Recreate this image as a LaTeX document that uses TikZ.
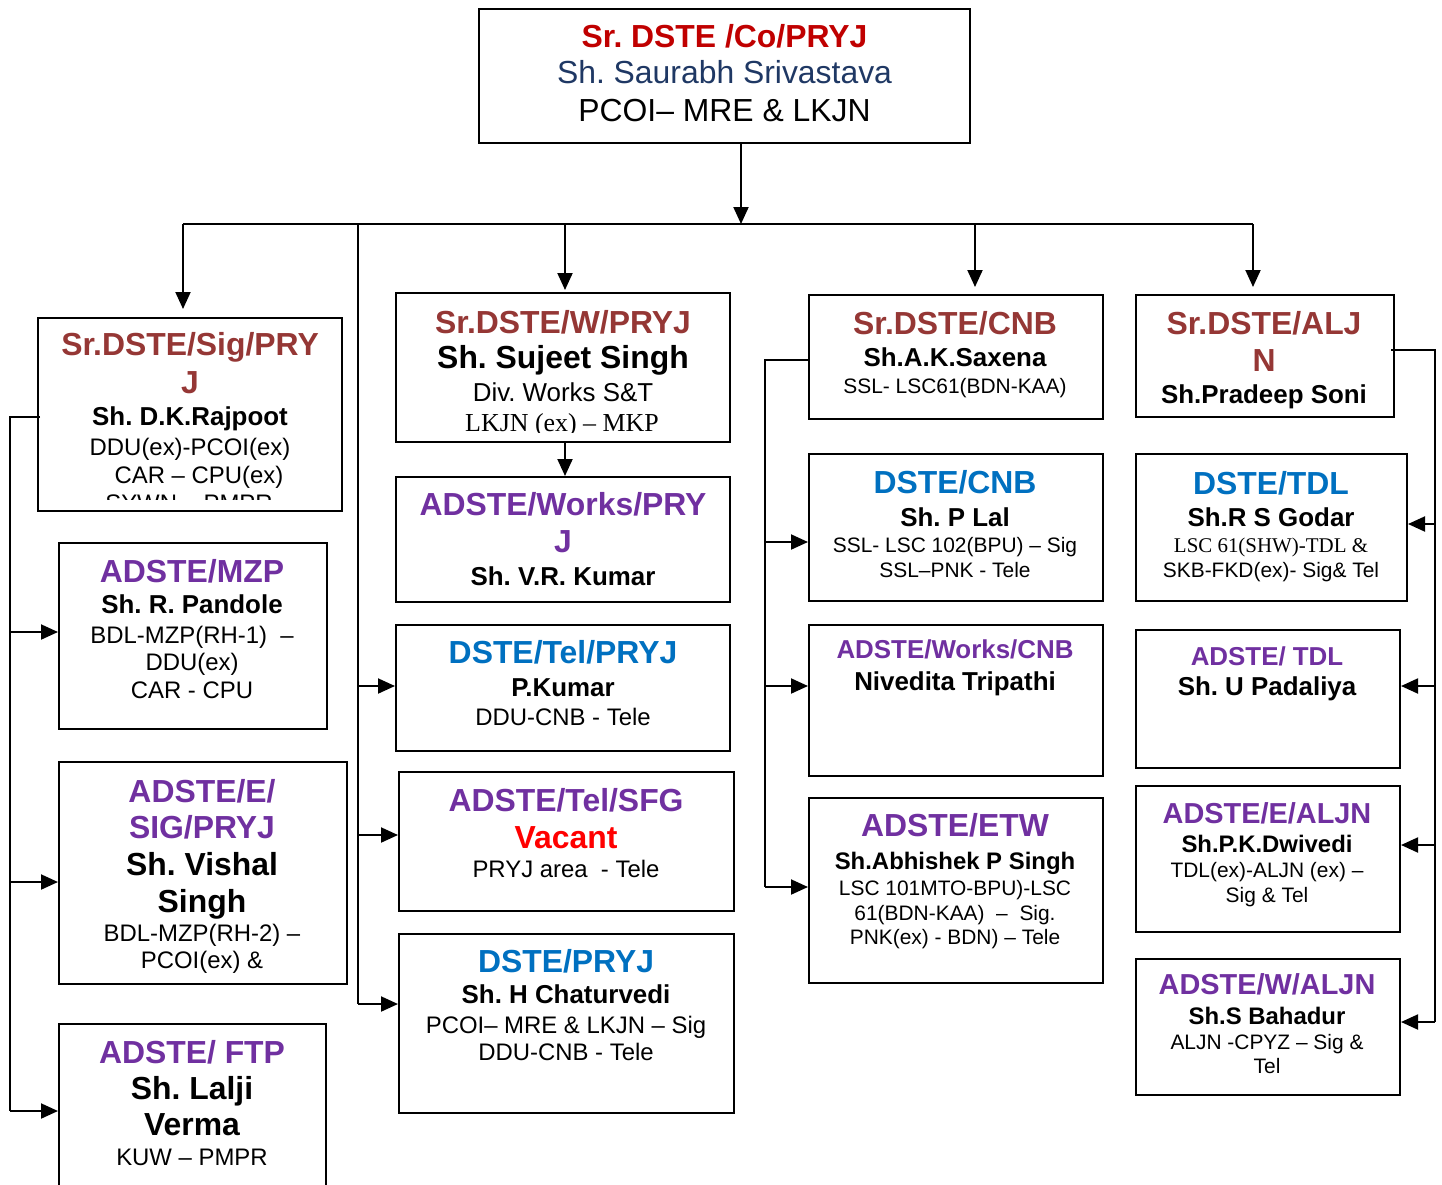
\documentclass[tikz,border=0pt]{standalone}
\usepackage{fontspec}
\setmainfont{Liberation Sans}
\newfontfamily\tmsfont{Liberation Serif}
\usetikzlibrary{arrows.meta}
\definecolor{cbrown}{HTML}{953735}
\definecolor{ctopred}{HTML}{C00000}
\definecolor{cnavy}{HTML}{1F3864}
\definecolor{cblue}{HTML}{0070C0}
\definecolor{cpurple}{HTML}{7030A0}
\definecolor{cvac}{HTML}{FF0000}
\begin{document}
\frenchspacing
\begin{tikzpicture}[x=1bp,y=-1bp,
  box/.style={draw, line width=2bp, inner sep=0pt, anchor=north west},
  ttl/.style={anchor=base, font=\fontsize{32}{36}\selectfont\bfseries},
  ttlm/.style={anchor=base, font=\fontsize{29}{33}\selectfont\bfseries},
  ttls/.style={anchor=base, font=\fontsize{26}{30}\selectfont\bfseries},
  big/.style={anchor=base, font=\fontsize{32}{36}\selectfont\bfseries},
  nm/.style={anchor=base, font=\fontsize{26}{30}\selectfont\bfseries},
  nms/.style={anchor=base, font=\fontsize{24}{28}\selectfont\bfseries},
  reg/.style={anchor=base, font=\fontsize{32}{36}\selectfont},
  dt/.style={anchor=base, font=\fontsize{24}{28}\selectfont},
  dtl/.style={anchor=base, font=\fontsize{26}{30}\selectfont},
  sm/.style={anchor=base, font=\fontsize{21}{25}\selectfont},
  arr/.style={-{Triangle[length=17bp,width=15bp]}, line width=2bp},
  ln/.style={line width=2bp}]
\useasboundingbox (0,0) rectangle (1442,1184);

% ---------- top box
\node[box, minimum width=493, minimum height=134] (tb) at (478,8) {};
\node[ttl, text=ctopred] (tb1) at (724.5,47) {Sr. DSTE /Co/PRYJ};
\node[reg, text=cnavy] (tb2) at (724.5,83) {Sh. Saurabh Srivastava};
\node[reg] (tb3) at (724.5,121) {PCOI– MRE \& LKJN};

% ---------- column 1
\node[box, minimum width=305, minimum height=194] (b1) at (37,317) {};
\node[ttl, text=cbrown] (b1a) at (190,355) {Sr.DSTE/Sig/PRY};
\node[ttl, text=cbrown] (b1b) at (190,393) {J};
\node[nm] (b1c) at (190,425) {Sh. D.K.Rajpoot};
\node[dt] (b1d) at (190,455) {DDU(ex)-PCOI(ex)};
\node[dt] (b1e) at (199,483) {CAR – CPU(ex)};
\begin{scope}
\clip (37,317) rectangle (342,499);
\node[dt] (b1f) at (189,511) {SYWN – PMPR};
\end{scope}

\node[box, minimum width=269, minimum height=187] (b2) at (58,542) {};
\node[ttl, text=cpurple] (b2a) at (192,582) {ADSTE/MZP};
\node[nm] (b2b) at (192,613) {Sh. R. Pandole};
\node[dt] (b2c) at (192,643) {BDL-MZP(RH-1)\ \ –};
\node[dt] (b2d) at (192,670) {DDU(ex)};
\node[dt] (b2e) at (192,698) {CAR - CPU};

\node[box, minimum width=289, minimum height=223] (b3) at (58,761) {};
\node[ttl, text=cpurple] (b3a) at (202,802) {ADSTE/E/};
\node[ttl, text=cpurple] (b3b) at (202,838) {SIG/PRYJ};
\node[big] (b3c) at (202,875) {Sh. Vishal};
\node[big] (b3d) at (202,912) {Singh};
\node[dt] (b3e) at (202,941) {BDL-MZP(RH-2) –};
\node[dt] (b3f) at (202,968) {PCOI(ex) \&};

\node[box, minimum width=268, minimum height=200] (b4) at (58,1023) {};
\node[ttl, text=cpurple] (b4a) at (192,1063) {ADSTE/ FTP};
\node[big] (b4b) at (192,1099) {Sh. Lalji};
\node[big] (b4c) at (192,1135) {Verma};
\node[dt] (b4d) at (192,1165) {KUW – PMPR};

% ---------- column 2
\node[box, minimum width=335, minimum height=150] (c1) at (395,292) {};
\node[ttl, text=cbrown] (c1a) at (563,333) {Sr.DSTE/W/PRYJ};
\node[big] (c1b) at (563,368) {Sh. Sujeet Singh};
\node[dtl] (c1c) at (563,401) {Div. Works S\&T};
\begin{scope}
\clip (395,292) rectangle (730,432);
\node[anchor=base, font=\fontsize{26}{30}\selectfont\tmsfont] (c1d) at (562,431) {LKJN (ex) – MKP};
\end{scope}

\node[box, minimum width=335, minimum height=125] (c2) at (395,476) {};
\node[ttl, text=cpurple] (c2a) at (563,515) {ADSTE/Works/PRY};
\node[ttl, text=cpurple] (c2b) at (563,552) {J};
\node[nm] (c2c) at (563,585) {Sh. V.R. Kumar};

\node[box, minimum width=335, minimum height=126] (c3) at (395,624) {};
\node[ttl, text=cblue] (c3a) at (563,663) {DSTE/Tel/PRYJ};
\node[nm] (c3b) at (563,696) {P.Kumar};
\node[dt] (c3c) at (563,725) {DDU-CNB - Tele};

\node[box, minimum width=336, minimum height=139] (c4) at (398,771) {};
\node[ttl, text=cpurple] (c4a) at (566,811) {ADSTE/Tel/SFG};
\node[ttl, text=cvac] (c4b) at (566,848) {Vacant};
\node[dt] (c4c) at (566,877) {PRYJ area\ \ - Tele};

\node[box, minimum width=336, minimum height=180] (c5) at (398,933) {};
\node[ttl, text=cblue] (c5a) at (566,972) {DSTE/PRYJ};
\node[nm] (c5b) at (566,1003) {Sh. H Chaturvedi};
\node[dt] (c5c) at (566,1033) {PCOI– MRE \& LKJN – Sig};
\node[dt] (c5d) at (566,1060) {DDU-CNB - Tele};

% ---------- column 3
\node[box, minimum width=295, minimum height=124] (d1) at (808,294) {};
\node[ttl, text=cbrown] (d1a) at (955,334) {Sr.DSTE/CNB};
\node[nm] (d1b) at (955,366) {Sh.A.K.Saxena};
\node[sm] (d1c) at (955,393) {SSL- LSC61(BDN-KAA)};

\node[box, minimum width=295, minimum height=148] (d2) at (808,453) {};
\node[ttl, text=cblue] (d2a) at (955,493) {DSTE/CNB};
\node[nm] (d2b) at (955,526) {Sh. P Lal};
\node[sm] (d2c) at (955,552) {SSL- LSC 102(BPU) – Sig};
\node[sm] (d2d) at (955,577) {SSL–PNK - Tele};

\node[box, minimum width=295, minimum height=152] (d3) at (808,624) {};
\node[ttls, text=cpurple] (d3a) at (955,658) {ADSTE/Works/CNB};
\node[nm] (d3b) at (955,690) {Nivedita Tripathi};

\node[box, minimum width=295, minimum height=186] (d4) at (808,797) {};
\node[ttl, text=cpurple] (d4a) at (955,836) {ADSTE/ETW};
\node[nms] (d4b) at (955,869) {Sh.Abhishek P Singh};
\node[sm] (d4c) at (955,895) {LSC 101MTO-BPU)-LSC};
\node[sm] (d4d) at (955,920) {61(BDN-KAA)\ \ –\ \ Sig.};
\node[sm] (d4e) at (955,944) {PNK(ex) - BDN) – Tele};

% ---------- column 4
\node[box, minimum width=259, minimum height=122] (e1) at (1135,294) {};
\node[ttl, text=cbrown] (e1a) at (1264,334) {Sr.DSTE/ALJ};
\node[ttl, text=cbrown] (e1b) at (1264,371) {N};
\node[nm] (e1c) at (1264,403) {Sh.Pradeep Soni};

\node[box, minimum width=272, minimum height=148] (e2) at (1135,453) {};
\node[ttl, text=cblue] (e2a) at (1271,494) {DSTE/TDL};
\node[nm] (e2b) at (1271,526) {Sh.R S Godar};
\node[anchor=base, font=\fontsize{21}{25}\selectfont\tmsfont] (e2c) at (1271,552) {LSC 61(SHW)-TDL \&};
\node[sm] (e2d) at (1271,577) {SKB-FKD(ex)- Sig\& Tel};

\node[box, minimum width=265, minimum height=138] (e3) at (1135,629) {};
\node[ttls, text=cpurple] (e3a) at (1267,665) {ADSTE/ TDL};
\node[nm] (e3b) at (1267,695) {Sh. U Padaliya};

\node[box, minimum width=265, minimum height=147] (e4) at (1135,785) {};
\node[ttlm, text=cpurple] (e4a) at (1267,823) {ADSTE/E/ALJN};
\node[nms] (e4b) at (1267,852) {Sh.P.K.Dwivedi};
\node[sm] (e4c) at (1267,877) {TDL(ex)-ALJN (ex) –};
\node[sm] (e4d) at (1267,902) {Sig \& Tel};

\node[box, minimum width=265, minimum height=136] (e5) at (1135,958) {};
\node[ttlm, text=cpurple] (e5a) at (1267,994) {ADSTE/W/ALJN};
\node[nms] (e5b) at (1267,1024) {Sh.S Bahadur};
\node[sm] (e5c) at (1267,1049) {ALJN -CPYZ – Sig \&};
\node[sm] (e5d) at (1267,1073) {Tel};

% ---------- connectors
\coordinate (j0) at (741,224);
\coordinate (bl) at (183,224);
\coordinate (br) at (1253,224);
\coordinate (jw) at (358,224);
\coordinate (jc) at (565,224);
\coordinate (jd) at (975,224);
\draw[arr] (tb.south -| j0) -- (j0);
\draw[ln] (bl) -- (br);
\draw[arr, shorten >=8bp] (bl) -- (b1.north -| bl);
\draw[arr, shorten >=2bp] (jc) -- (c1.north -| jc);
\draw[arr, shorten >=7bp] (jd) -- (d1.north -| jd);
\draw[arr, shorten >=7bp] (br) -- (e1.north -| br);
\draw[arr] (c1.south -| jc) -- (c2.north -| jc);

% column 2 feeder
\coordinate (w3) at (358,686);
\coordinate (w4) at (358,835);
\coordinate (w5) at (358,1004);
\draw[ln] (jw) -- (w5);
\draw[arr] (w3) -- (w3 -| c3.west);
\draw[arr] (w4) -- (w4 -| c4.west);
\draw[arr] (w5) -- (w5 -| c5.west);

% column 1 feeder
\coordinate (l0) at (10,417);
\coordinate (l2) at (10,632);
\coordinate (l3) at (10,882);
\coordinate (l4) at (10,1111);
\draw[ln] ([xshift=3bp]l0 -| b1.west) -- (l0) -- (l4);
\draw[arr] (l2) -- (l2 -| b2.west);
\draw[arr] (l3) -- (l3 -| b3.west);
\draw[arr] (l4) -- (l4 -| b4.west);

% column 3 feeder
\coordinate (m0) at (765,360);
\coordinate (m2) at (765,542);
\coordinate (m3) at (765,686);
\coordinate (m4) at (765,887);
\draw[ln] (m0 -| d1.west) -- (m0) -- (m4);
\draw[arr] (m2) -- (m2 -| d2.west);
\draw[arr] (m3) -- (m3 -| d3.west);
\draw[arr] (m4) -- (m4 -| d4.west);

% column 4 feeder
\coordinate (r0) at (1435,350);
\coordinate (r2) at (1435,524);
\coordinate (r3) at (1435,686);
\coordinate (r4) at (1435,845);
\coordinate (r5) at (1435,1022);
\draw[ln] ([xshift=-4bp]r0 -| e1.east) -- (r0) -- (r5);
\draw[arr] (r2) -- (r2 -| e2.east);
\draw[arr] (r3) -- (r3 -| e3.east);
\draw[arr] (r4) -- (r4 -| e4.east);
\draw[arr] (r5) -- (r5 -| e5.east);
\end{tikzpicture}
\end{document}
